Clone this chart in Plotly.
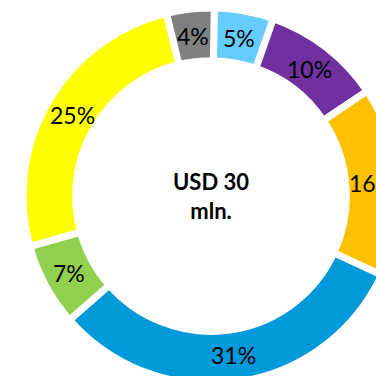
import math
import plotly.graph_objects as go

categories = ["A", "B", "C", "D", "E", "F", "G"]
values = [5, 10, 16, 31, 7, 25, 4]
colors = ["#66CCFF", "#7030A0", "#FFC000", "#0099DA", "#92D050", "#FFFF00", "#808080"]
labels = [f"{v}%" for v in values]
center_text = "<b>USD 30<br>mln.</b>"

R = 188
cx, cy = 211, 196
W, H = 440, 410
ROT = 1
HOLE = 0.72

fig = go.Figure(go.Pie(
    labels=categories,
    values=values,
    textinfo="none",
    sort=False,
    direction="clockwise",
    rotation=ROT,
    hole=HOLE,
    marker=dict(colors=colors, line=dict(color="white", width=7)),
    showlegend=False,
    hoverinfo="skip",
))

# data labels at the mid-angle of each slice, middle of the ring
total = sum(values)
cum = 0
r_lab = 161 / (2 * R)  # in paper fraction of the square plot area
for v, lab in zip(values, labels):
    mid = (cum + v / 2) / total * 360 + ROT
    cum += v
    a = math.radians(mid)
    fig.add_annotation(
        x=0.5 + r_lab * math.sin(a), y=0.5 + r_lab * math.cos(a),
        xref="paper", yref="paper", text=lab, showarrow=False,
        font=dict(family="Lato", size=23, color="black"),
        xanchor="center", yanchor="middle",
    )

fig.add_annotation(
    x=0.5, y=0.5, xref="paper", yref="paper",
    text=center_text, showarrow=False,
    font=dict(family="Lato", size=22, color="black"),
)

fig.update_layout(
    width=W, height=H,
    margin=dict(l=cx - R, t=cy - R, r=W - (cx + R), b=H - (cy + R), pad=0),
    paper_bgcolor="white", plot_bgcolor="white",
)

fig.write_html(
    "out.html",
    post_script="document.documentElement.style.overflow='hidden';document.body.style.overflow='hidden';document.body.style.margin='0';",
)
